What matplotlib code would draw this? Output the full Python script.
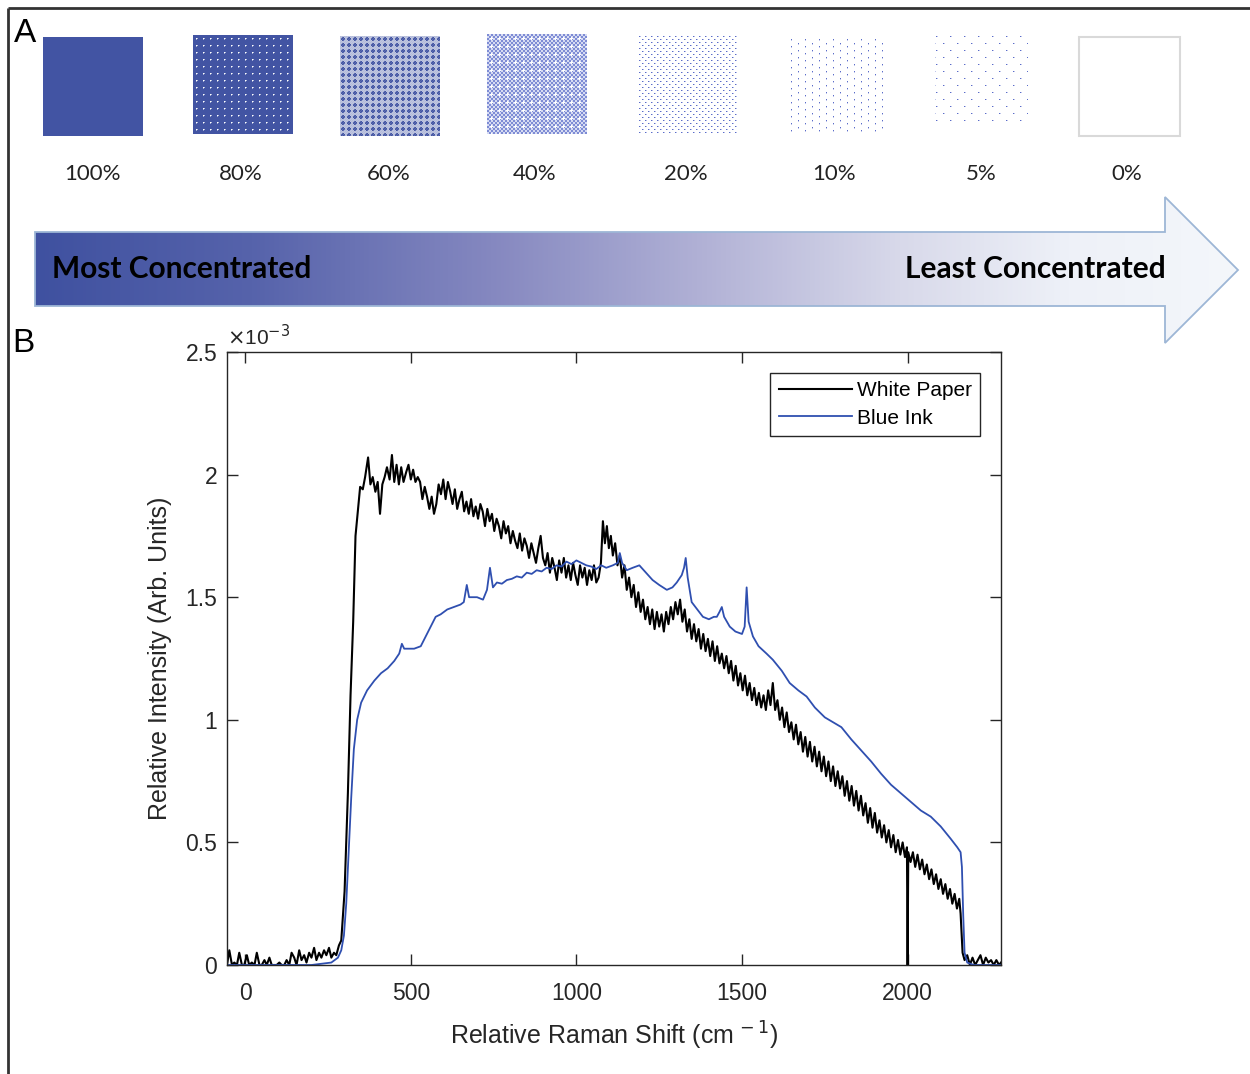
import numpy as np
import matplotlib
matplotlib.use("Agg")
import matplotlib.pyplot as plt
from matplotlib.patches import Polygon, Rectangle
from matplotlib.colors import LinearSegmentedColormap

# ---------------- data ----------------
concentrations = [100, 80, 60, 40, 20, 10, 5, 0]
conc_labels = ["100%", "80%", "60%", "40%", "20%", "10%", "5%", "0%"]

paper_x = [-55, -48, -40, -33, -25, -18, -10, -3, 5, 12, 20, 28, 35, 43, 50, 58, 65, 73, 80, 88,
           95, 103, 110, 118, 125, 133, 140, 148, 155, 163, 170, 178, 185, 193, 200, 208, 215, 223,
           230, 238, 245, 253, 260, 268, 275, 283,
           290, 300, 310, 318, 326, 333, 340, 347, 355, 362, 371, 378, 385, 393, 400, 407, 414, 421,
           428, 436, 443, 450, 457, 464, 471, 478, 486, 493, 500, 507, 514, 521,
           528, 535, 542, 549, 556, 563, 570, 577, 584, 591, 598, 605, 612, 619, 626, 633, 640, 647,
           654, 661, 668, 675, 682, 689, 696, 703, 710, 717, 724, 731, 738, 745, 752, 759, 766, 773,
           780, 787, 794, 801, 808, 815, 822, 829, 836, 843, 850, 857, 864, 871, 878, 885, 892, 899,
           906, 913, 920, 927, 934, 941, 948, 955, 962, 969, 976, 983, 990, 997, 1004, 1011, 1018,
           1025, 1032, 1039, 1046, 1053, 1060, 1067, 1074, 1080, 1086, 1092, 1098, 1104, 1110, 1117,
           1124, 1131, 1138, 1145, 1152, 1159, 1166, 1173, 1180, 1187, 1194, 1201, 1208, 1215, 1222,
           1229, 1236, 1243, 1250, 1257, 1264, 1271, 1278, 1285, 1292, 1299, 1306, 1313, 1320, 1327,
           1334, 1341, 1348, 1355, 1362, 1369, 1376, 1383, 1390, 1397, 1404, 1411, 1418, 1425, 1432,
           1439, 1446, 1453, 1460, 1467, 1474, 1481, 1488, 1495, 1502, 1509, 1516, 1523, 1530, 1537,
           1544, 1551, 1558, 1565, 1572, 1579, 1586, 1593, 1600, 1607, 1614, 1621, 1628, 1635, 1642,
           1649, 1656, 1663, 1670, 1677, 1684, 1691, 1698, 1705, 1712, 1719, 1726, 1733, 1740, 1747,
           1754, 1761, 1768, 1775, 1782, 1789, 1796, 1803, 1810, 1817, 1824, 1831, 1838, 1845, 1852,
           1859, 1866, 1873, 1880, 1887, 1894, 1901, 1908, 1915, 1922, 1929, 1936, 1943, 1950, 1957,
           1964, 1971, 1978, 1985, 1992, 1998, 2000, 2002, 2009, 2016, 2023, 2030, 2037, 2044, 2051,
           2058, 2065, 2072, 2079, 2086, 2093, 2100, 2107, 2114, 2121, 2128, 2135, 2142, 2149, 2156,
           2160, 2166, 2172, 2180, 2188, 2196, 2204, 2212, 2220, 2228, 2236, 2244, 2252, 2260, 2268,
           2276, 2282]
paper_y = [0.0, 0.06, 0.0, 0.01, 0.0, 0.05, 0.0, 0.0, 0.04, 0.0, 0.01, 0.0, 0.05, 0.0, 0.0, 0.02,
           0.0, 0.03, 0.0, 0.0, 0.0, 0.01, 0.0, 0.0, 0.02, 0.0, 0.05, 0.03, 0.0, 0.06, 0.02, 0.04,
           0.01, 0.05, 0.03, 0.07, 0.02, 0.05, 0.03, 0.06, 0.04, 0.07, 0.03, 0.05, 0.04, 0.08,
           0.10, 0.30, 0.70, 1.10, 1.40, 1.75, 1.85, 1.95, 1.94, 1.99, 2.07, 1.96, 1.99, 1.93, 1.97,
           1.84, 1.96, 1.99, 2.03, 1.98, 2.08, 1.97, 2.04, 1.96, 2.03, 1.97, 2.01, 2.04, 1.98, 2.02,
           1.97, 1.99,
           1.97, 1.90, 1.95, 1.91, 1.86, 1.91, 1.84, 1.88, 1.96, 1.92, 1.98, 1.90, 1.97, 1.93,
           1.88, 1.94, 1.86, 1.90, 1.93, 1.85, 1.89, 1.84, 1.90, 1.83, 1.87, 1.82, 1.88, 1.85,
           1.79, 1.86, 1.81, 1.84, 1.77, 1.82, 1.79, 1.74, 1.81, 1.76, 1.79, 1.72, 1.77, 1.73,
           1.70, 1.76, 1.69, 1.74, 1.71, 1.66, 1.72, 1.68, 1.64, 1.70, 1.75, 1.66, 1.63, 1.68,
           1.60, 1.66, 1.62, 1.57, 1.65, 1.60, 1.66, 1.58, 1.63, 1.57, 1.64, 1.59, 1.55, 1.63,
           1.58, 1.62, 1.55, 1.61, 1.57, 1.63, 1.56, 1.58, 1.64, 1.81, 1.72, 1.79, 1.70, 1.75,
           1.67, 1.72, 1.63, 1.67, 1.58, 1.63, 1.53, 1.58, 1.50, 1.55, 1.46, 1.52, 1.44, 1.49,
           1.41, 1.46, 1.39, 1.45, 1.37, 1.44, 1.38, 1.43, 1.36, 1.44, 1.39, 1.46, 1.41, 1.48,
           1.43, 1.49, 1.40, 1.45, 1.36, 1.41, 1.33, 1.39, 1.32, 1.37, 1.29, 1.35, 1.28, 1.33,
           1.26, 1.32, 1.24, 1.30, 1.23, 1.27, 1.21, 1.26, 1.19, 1.24, 1.16, 1.22, 1.14, 1.19,
           1.12, 1.18, 1.10, 1.15, 1.08, 1.13, 1.06, 1.11, 1.05, 1.10, 1.04, 1.12, 1.06, 1.15,
           1.04, 1.08, 1.00, 1.05, 0.97, 1.03, 0.95, 0.99, 0.92, 0.98, 0.90, 0.95, 0.87, 0.93,
           0.85, 0.91, 0.83, 0.89, 0.81, 0.87, 0.79, 0.85, 0.77, 0.83, 0.75, 0.81, 0.73, 0.79,
           0.72, 0.77, 0.69, 0.75, 0.67, 0.73, 0.65, 0.71, 0.63, 0.69, 0.61, 0.66, 0.58, 0.64,
           0.56, 0.62, 0.54, 0.59, 0.52, 0.57, 0.50, 0.55, 0.48, 0.53, 0.46, 0.51, 0.45, 0.50,
           0.44, 0.48, 0.0, 0.46, 0.42, 0.46, 0.40, 0.45, 0.39, 0.43, 0.37, 0.41, 0.35, 0.39,
           0.33, 0.37, 0.31, 0.35, 0.29, 0.33, 0.27, 0.31, 0.25, 0.29, 0.23, 0.27,
           0.21, 0.05, 0.02, 0.04, 0.0, 0.03, 0.0, 0.02, 0.04, 0.0, 0.03, 0.01, 0.02, 0.0, 0.02,
           0.0, 0.01]

ink_x = [-55, 0, 100, 200, 260, 280, 290, 298, 305, 312, 320, 328, 338, 350, 368, 390, 410, 430,
         450, 465, 473, 480, 490, 510, 530, 545, 560, 575, 590, 610, 630, 650, 660, 669, 676, 688,
         700, 718, 730, 739, 748, 760, 775, 790, 805, 820, 835, 850, 865, 880, 895, 910, 925, 940,
         955, 970, 985, 1000, 1015, 1030, 1045, 1060, 1075, 1090, 1110, 1125, 1131, 1138, 1152,
         1170, 1190, 1210, 1230, 1250, 1273, 1290, 1303, 1318, 1325, 1330, 1336, 1348, 1365, 1382,
         1400, 1415, 1424, 1432, 1439, 1446, 1463, 1480, 1500, 1508, 1514, 1520, 1533, 1550, 1574,
         1593, 1620, 1644, 1670, 1695, 1720, 1750, 1775, 1800, 1830, 1860, 1890, 1920, 1950, 1980,
         2010, 2040, 2070, 2100, 2130, 2150, 2160, 2164, 2168, 2172, 2180, 2200, 2240, 2282]
ink_y = [0.0, 0.0, 0.0, 0.0, 0.01, 0.03, 0.06, 0.12, 0.25, 0.45, 0.68, 0.88, 1.0, 1.07, 1.12,
         1.16, 1.19, 1.21, 1.24, 1.27, 1.31, 1.29, 1.29, 1.29, 1.30, 1.34, 1.38, 1.42, 1.43, 1.45,
         1.46, 1.47, 1.48, 1.55, 1.50, 1.50, 1.50, 1.49, 1.53, 1.62, 1.54, 1.56, 1.555, 1.57,
         1.575, 1.585, 1.58, 1.60, 1.595, 1.61, 1.605, 1.62, 1.615, 1.63, 1.625, 1.645, 1.635,
         1.65, 1.64, 1.63, 1.625, 1.615, 1.63, 1.62, 1.63, 1.64, 1.68, 1.64, 1.61, 1.62, 1.63,
         1.60, 1.57, 1.55, 1.53, 1.54, 1.56, 1.59, 1.62, 1.66, 1.58, 1.48, 1.45, 1.42, 1.41, 1.42,
         1.42, 1.44, 1.46, 1.42, 1.38, 1.36, 1.35, 1.38, 1.54, 1.40, 1.34, 1.30, 1.27, 1.245,
         1.20, 1.15, 1.12, 1.095, 1.05, 1.01, 0.99, 0.97, 0.92, 0.875, 0.83, 0.78, 0.735, 0.70,
         0.665, 0.63, 0.605, 0.565, 0.515, 0.48, 0.46, 0.40, 0.20, 0.05, 0.01, 0.0, 0.0, 0.0]

x_ticks = [0, 500, 1000, 1500, 2000]
y_ticks = [0, 0.5, 1, 1.5, 2, 2.5]
y_tick_labels = ["0", "0.5", "1", "1.5", "2", "2.5"]

# ---------------- layout / style ----------------
W, H = 1250, 1074
BLUE = np.array([67, 85, 163]) / 255.0
DOT = np.array([72, 92, 196]) / 255.0
INK_COLOR = "#2f4fb0"
TXT = "#262626"
SWATCH_BOXES = [(43, 37, 100, 99), (193, 35, 100, 99), (340, 36, 100, 100), (487, 34, 100, 100),
                (638, 35, 99, 99), (790, 38, 93, 96), (935, 35, 93, 92), (1079, 37, 101, 99)]
LABEL_X = [92, 241, 389, 535, 686, 834, 981, 1127]


def pattern(level, h, w):
    yy, xx = np.mgrid[0:h, 0:w]
    col = BLUE
    if level == 100:
        a = np.ones((h, w))
    elif level == 80:
        a = np.ones((h, w))
        a[(yy % 7 == 3) & (xx % 7 == 3)] = 0.0
        a[(yy % 7 == 3) & (xx % 7 == 4)] = 0.4
        a[(yy % 7 == 4) & (xx % 7 == 3)] = 0.5
    elif level == 60:
        col = BLUE
        d = np.abs((xx % 6) - 2.5) + np.abs((yy % 6) - 2.5)
        a = np.where(d < 2.6, 1.0, 0.4) * np.where((xx + yy) % 2 == 0, 1.0, 0.85)
    elif level == 40:
        col = DOT
        a = np.where(((xx // 2) + (yy // 2)) % 2 == 0, 0.7, 0.22)
        cross = (((xx % 8) == 4) & (np.abs((yy % 8) - 4) <= 1)) | \
                (((yy % 8) == 4) & (np.abs((xx % 8) - 4) <= 1))
        a[cross] = 0.0
    elif level == 20:
        col = DOT
        a = np.zeros((h, w))
        m = ((yy % 6 == 1) & (xx % 6 == 1)) | ((yy % 6 == 4) & (xx % 6 == 4))
        a[m] = 0.9
        a[np.roll(m, 1, axis=1)] = 0.4
    elif level == 10:
        col = DOT
        a = np.zeros((h, w))
        m = (xx % 7 == 1) & (((yy + 3 * ((xx // 7) % 2)) % 7) == 1)
        a[m] = 0.9
        a[np.roll(m, 1, axis=0)] = 0.35
    elif level == 5:
        col = DOT
        a = np.zeros((h, w))
        m = (yy % 7 == 1) & (((xx + 7 * ((yy // 7) % 2)) % 14) == 1)
        a[m] = 0.9
        a[np.roll(m, 1, axis=1)] = 0.35
    else:
        a = np.zeros((h, w))
    rgb = 1.0 - a[..., None] * (1.0 - col[None, None, :])
    return rgb


fig = plt.figure(figsize=(W / 100, H / 100), dpi=100)
ov = fig.add_axes([0, 0, 1, 1])
ov.axis("off")

# figure border (top and left)
ov.plot([8, W], [8, 8], color="#333333", lw=2, solid_capstyle="butt")
ov.plot([8, 8], [8, H], color="#333333", lw=2, solid_capstyle="butt")

# panel letters
ov.text(14, 34, "A", fontsize=24, family="Liberation Sans", va="center", ha="left", color="black")
ov.text(12, 344, "B", fontsize=24, family="Liberation Sans", va="center", ha="left", color="black")

# swatches
for lev, lab, (x0, y0, w, h), lx in zip(concentrations, conc_labels, SWATCH_BOXES, LABEL_X):
    img = pattern(lev, h, w)
    ov.imshow(img, extent=[x0, x0 + w, y0 + h, y0], interpolation="nearest", aspect="auto")
    if lev == 0:
        ov.add_patch(Rectangle((x0, y0), w, h, facecolor="none", edgecolor="#d9d9d9", lw=1.5))
    ov.text(lx, 174, lab, fontsize=16, family="Lato", ha="center", va="center", color="#222222")

# gradient arrow
verts = [(35, 232), (1165, 232), (1165, 197), (1238, 270), (1165, 343), (1165, 306), (35, 306)]
arrow = Polygon(verts, closed=True, facecolor="none", edgecolor="#9db6d6", lw=1.3, zorder=3)
ov.add_patch(arrow)
cmap = LinearSegmentedColormap.from_list(
    "conc", [(0.0, "#3f51a0"), (0.18, "#5663ab"), (0.38, "#8588c0"), (0.55, "#b0b0d5"),
             (0.72, "#d8d9ea"), (0.86, "#eef1f8"), (1.0, "#f4f7fb")])
grad = np.linspace(0, 1, 512)[None, :]
gim = ov.imshow(grad, extent=[35, 1238, 343, 197], aspect="auto", cmap=cmap, zorder=2)
gim.set_clip_path(arrow)
ov.text(52, 269, "Most Concentrated", fontsize=21.5, fontweight="bold", family="Lato",
        va="center", ha="left", color="black", zorder=4)
ov.text(1166, 269, "Least Concentrated", fontsize=21.5, fontweight="bold", family="Lato",
        va="center", ha="right", color="black", zorder=4)

ov.set_xlim(0, W)
ov.set_ylim(H, 0)

# ---------------- panel B ----------------
ax = fig.add_axes([227 / W, 1 - 965 / H, (1001 - 227) / W, (965 - 352) / H])
ax.set_zorder(5)
ax.plot(paper_x, paper_y, color="black", lw=1.5, label="White Paper")
ax.plot(ink_x, ink_y, color=INK_COLOR, lw=1.3, label="Blue Ink")
ax.set_xlim(-55, 2282)
ax.set_ylim(0, 2.5)
ax.set_xticks(x_ticks)
ax.set_xticklabels([str(t) for t in x_ticks])
ax.set_yticks(y_ticks)
ax.set_yticklabels(y_tick_labels)
for s in ax.spines.values():
    s.set_color(TXT)
    s.set_linewidth(1.0)
ax.tick_params(direction="in", length=8, width=1, top=True, right=True, colors=TXT,
               labelsize=16.5)
ax.tick_params(axis="x", pad=12)
ax.tick_params(axis="y", pad=7)
for lbl in ax.get_xticklabels() + ax.get_yticklabels():
    lbl.set_family("Liberation Sans")
ax.set_xlabel("Relative Raman Shift (cm$^{\\,-1}$)", fontsize=18, family="Liberation Sans",
              color=TXT, labelpad=11)
ax.set_ylabel("Relative Intensity (Arb. Units)", fontsize=18, family="Liberation Sans",
              color=TXT, labelpad=10)
ax.text(0.0, 1.005, "$\\times$10$^{-3}$", transform=ax.transAxes, fontsize=15,
        family="Liberation Sans", color=TXT, ha="left", va="bottom")
leg = ax.legend(loc="upper right", handlelength=3.5, handletextpad=0.25,
                labelspacing=0.4, borderaxespad=1.0, fancybox=False, framealpha=1,
                prop={"family": "Liberation Sans", "size": 15})
leg.get_frame().set_edgecolor(TXT)
leg.get_frame().set_linewidth(1.0)

fig.savefig("out.png", dpi=100)
